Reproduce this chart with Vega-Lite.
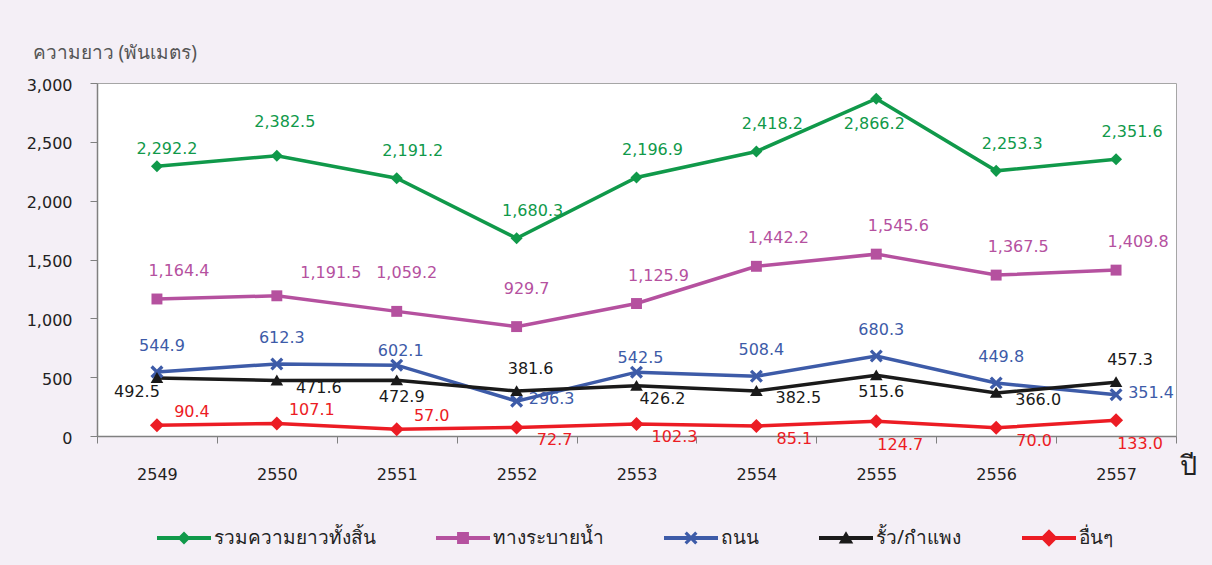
{
  "$schema": "https://vega.github.io/schema/vega-lite/v6.json",
  "width": 1079,
  "height": 353,
  "autosize": {"type": "none"},
  "padding": {"left": 97, "top": 83, "right": 36, "bottom": 129},
  "background": "#f4eff6",
  "data": {"values": [
    {"year": "2549", "series": "รวมความยาวทั้งสิ้น", "value": 2292.2},
    {"year": "2550", "series": "รวมความยาวทั้งสิ้น", "value": 2382.5},
    {"year": "2551", "series": "รวมความยาวทั้งสิ้น", "value": 2191.2},
    {"year": "2552", "series": "รวมความยาวทั้งสิ้น", "value": 1680.3},
    {"year": "2553", "series": "รวมความยาวทั้งสิ้น", "value": 2196.9},
    {"year": "2554", "series": "รวมความยาวทั้งสิ้น", "value": 2418.2},
    {"year": "2555", "series": "รวมความยาวทั้งสิ้น", "value": 2866.2},
    {"year": "2556", "series": "รวมความยาวทั้งสิ้น", "value": 2253.3},
    {"year": "2557", "series": "รวมความยาวทั้งสิ้น", "value": 2351.6},
    {"year": "2549", "series": "ทางระบายน้ำ", "value": 1164.4},
    {"year": "2550", "series": "ทางระบายน้ำ", "value": 1191.5},
    {"year": "2551", "series": "ทางระบายน้ำ", "value": 1059.2},
    {"year": "2552", "series": "ทางระบายน้ำ", "value": 929.7},
    {"year": "2553", "series": "ทางระบายน้ำ", "value": 1125.9},
    {"year": "2554", "series": "ทางระบายน้ำ", "value": 1442.2},
    {"year": "2555", "series": "ทางระบายน้ำ", "value": 1545.6},
    {"year": "2556", "series": "ทางระบายน้ำ", "value": 1367.5},
    {"year": "2557", "series": "ทางระบายน้ำ", "value": 1409.8},
    {"year": "2549", "series": "ถนน", "value": 544.9},
    {"year": "2550", "series": "ถนน", "value": 612.3},
    {"year": "2551", "series": "ถนน", "value": 602.1},
    {"year": "2552", "series": "ถนน", "value": 296.3},
    {"year": "2553", "series": "ถนน", "value": 542.5},
    {"year": "2554", "series": "ถนน", "value": 508.4},
    {"year": "2555", "series": "ถนน", "value": 680.3},
    {"year": "2556", "series": "ถนน", "value": 449.8},
    {"year": "2557", "series": "ถนน", "value": 351.4},
    {"year": "2549", "series": "รั้ว/กำแพง", "value": 492.5},
    {"year": "2550", "series": "รั้ว/กำแพง", "value": 471.6},
    {"year": "2551", "series": "รั้ว/กำแพง", "value": 472.9},
    {"year": "2552", "series": "รั้ว/กำแพง", "value": 381.6},
    {"year": "2553", "series": "รั้ว/กำแพง", "value": 426.2},
    {"year": "2554", "series": "รั้ว/กำแพง", "value": 382.5},
    {"year": "2555", "series": "รั้ว/กำแพง", "value": 515.6},
    {"year": "2556", "series": "รั้ว/กำแพง", "value": 366.0},
    {"year": "2557", "series": "รั้ว/กำแพง", "value": 457.3},
    {"year": "2549", "series": "อื่นๆ", "value": 90.4},
    {"year": "2550", "series": "อื่นๆ", "value": 107.1},
    {"year": "2551", "series": "อื่นๆ", "value": 57.0},
    {"year": "2552", "series": "อื่นๆ", "value": 72.7},
    {"year": "2553", "series": "อื่นๆ", "value": 102.3},
    {"year": "2554", "series": "อื่นๆ", "value": 85.1},
    {"year": "2555", "series": "อื่นๆ", "value": 124.7},
    {"year": "2556", "series": "อื่นๆ", "value": 70.0},
    {"year": "2557", "series": "อื่นๆ", "value": 133.0}
  ]},
  "encoding": {
    "x": {
      "field": "year", "type": "nominal",
      "scale": {"type": "band", "paddingInner": 0, "paddingOuter": 0},
      "axis": {
        "title": "ปี", "labelAngle": 0, "tickBand": "extent", "tickSize": 7,
        "tickColor": "#808080", "domainColor": "#808080", "domainWidth": 1.5,
        "labelPadding": 23, "labelFont": "DejaVu Sans", "labelFontSize": 16, "labelColor": "#222222",
        "titleX": 1091, "titleY": 30, "titleAlign": "center", "titleBaseline": "middle",
        "titleFontSize": 27, "titleFontWeight": "normal", "titleColor": "#222222", "titleFont": "Noto Sans"
      }
    },
    "y": {
      "field": "value", "type": "quantitative",
      "scale": {"domain": [0, 3000], "nice": false},
      "axis": {
        "title": "ความยาว (พันเมตร)", "values": [0, 500, 1000, 1500, 2000, 2500, 3000], "format": ",d",
        "grid": false, "tickSize": 7, "tickColor": "#808080", "domainColor": "#808080", "domainWidth": 1.5,
        "labelPadding": 18, "labelOffset": 2, "labelFont": "DejaVu Sans", "labelFontSize": 16, "labelColor": "#222222",
        "titleAngle": 0, "titleX": -65, "titleY": -31, "titleAlign": "left", "titleBaseline": "middle",
        "titleFontSize": 19, "titleFontWeight": "normal", "titleColor": "#555555", "titleFont": "Noto Sans"
      }
    },
    "color": {
      "field": "series", "type": "nominal", "legend": null,
      "scale": {
        "domain": ["รวมความยาวทั้งสิ้น", "ทางระบายน้ำ", "ถนน", "รั้ว/กำแพง", "อื่นๆ"],
        "range": ["#10994a", "#b5519f", "#3d5ba8", "#1a1a1a", "#ec1c24"]
      }
    }
  },
  "resolve": {"legend": {"color": "independent", "shape": "independent"}},
  "layer": [
    {"mark": {"type": "line", "strokeWidth": 3.5}},
    {"transform": [{"filter": {"field": "series", "equal": "รวมความยาวทั้งสิ้น"}}],
     "mark": {"type": "point", "filled": true, "opacity": 1, "size": 196, "shape": "M0,-0.86L0.86,0L0,0.86L-0.86,0Z"}},
    {"transform": [{"filter": {"field": "series", "equal": "ทางระบายน้ำ"}}],
     "mark": {"type": "point", "filled": true, "opacity": 1, "size": 196, "shape": "M-0.78,-0.78H0.78V0.78H-0.78Z"}},
    {"transform": [{"filter": {"field": "series", "equal": "ถนน"}}],
     "mark": {"type": "point", "filled": true, "opacity": 1, "size": 196, "shape": "M-0.93,-0.6L-0.6,-0.93L0,-0.33L0.6,-0.93L0.93,-0.6L0.33,0L0.93,0.6L0.6,0.93L0,0.33L-0.6,0.93L-0.93,0.6L-0.33,0Z"}},
    {"transform": [{"filter": {"field": "series", "equal": "รั้ว/กำแพง"}}],
     "mark": {"type": "point", "filled": true, "opacity": 1, "size": 196, "shape": "M0,-0.85L0.9,0.7L-0.9,0.7Z"}},
    {"transform": [{"filter": {"field": "series", "equal": "อื่นๆ"}}],
     "mark": {"type": "point", "filled": true, "opacity": 1, "size": 196, "shape": "M0,-1L1,0L0,1L-1,0Z"}},
    {"mark": {"type": "point", "filled": true, "opacity": 0},
     "encoding": {
       "color": {"field": "series", "type": "nominal",
         "legend": {"orient": "none", "legendX": 60, "legendY": 428, "direction": "horizontal", "columns": 5, "title": null,
           "symbolSize": 2916, "symbolStrokeWidth": 0, "symbolOpacity": 1, "labelFontSize": 19, "labelColor": "#222222",
           "labelOffset": 3, "labelLimit": 400, "columnPadding": 60, "padding": 0, "labelFont": "Noto Sans"}},
       "shape": {"field": "series", "type": "nominal",
         "scale": {
           "domain": ["รวมความยาวทั้งสิ้น", "ทางระบายน้ำ", "ถนน", "รั้ว/กำแพง", "อื่นๆ"],
           "range": [
             "M-1,-0.07H1V0.07H-1Z M0,-0.24L0.24,0L0,0.24L-0.24,0Z",
             "M-1,-0.07H1V0.07H-1Z M-0.22,-0.22H0.22V0.22H-0.22Z",
             "M-1,-0.07H1V0.07H-1Z M-0.24,-0.156L-0.156,-0.24L0,-0.086L0.156,-0.24L0.24,-0.156L0.086,0L0.24,0.156L0.156,0.24L0,0.086L-0.156,0.24L-0.24,0.156L-0.086,0Z",
             "M-1,-0.07H1V0.07H-1Z M0,-0.25L0.27,0.2L-0.27,0.2Z",
             "M-1,-0.07H1V0.07H-1Z M0,-0.32L0.32,0L0,0.32L-0.32,0Z"
           ]},
         "legend": {"orient": "none", "legendX": 60, "legendY": 428, "direction": "horizontal", "columns": 5, "title": null,
           "symbolSize": 2916, "symbolStrokeWidth": 0, "symbolOpacity": 1, "labelFontSize": 19, "labelColor": "#222222",
           "labelOffset": 3, "labelLimit": 400, "columnPadding": 60, "padding": 0, "labelFont": "Noto Sans"}}
     }},
    {"transform": [{"filter": {"and": [{"field": "series", "equal": "รวมความยาวทั้งสิ้น"}, {"field": "year", "oneOf": ["2549"]}]}}],
     "mark": {"type": "text", "dx": 10, "dy": -17}, "encoding": {"text": {"field": "value", "format": ",.1f"}}},
    {"transform": [{"filter": {"and": [{"field": "series", "equal": "รวมความยาวทั้งสิ้น"}, {"field": "year", "oneOf": ["2550"]}]}}],
     "mark": {"type": "text", "dx": 8, "dy": -34}, "encoding": {"text": {"field": "value", "format": ",.1f"}}},
    {"transform": [{"filter": {"and": [{"field": "series", "equal": "รวมความยาวทั้งสิ้น"}, {"field": "year", "oneOf": ["2555"]}]}}],
     "mark": {"type": "text", "dx": -2, "dy": 25}, "encoding": {"text": {"field": "value", "format": ",.1f"}}},
    {"transform": [{"filter": {"and": [{"field": "series", "equal": "รวมความยาวทั้งสิ้น"}, {"field": "year", "oneOf": ["2551", "2552", "2553", "2554", "2556", "2557"]}]}}],
     "mark": {"type": "text", "dx": 16, "dy": -27}, "encoding": {"text": {"field": "value", "format": ",.1f"}}},
    {"transform": [{"filter": {"and": [{"field": "series", "equal": "ทางระบายน้ำ"}, {"field": "year", "oneOf": ["2550"]}]}}],
     "mark": {"type": "text", "dx": 54, "dy": -23}, "encoding": {"text": {"field": "value", "format": ",.1f"}}},
    {"transform": [{"filter": {"and": [{"field": "series", "equal": "ทางระบายน้ำ"}, {"field": "year", "oneOf": ["2551", "2552"]}]}}],
     "mark": {"type": "text", "dx": 10, "dy": -38}, "encoding": {"text": {"field": "value", "format": ",.1f"}}},
    {"transform": [{"filter": {"and": [{"field": "series", "equal": "ทางระบายน้ำ"}, {"field": "year", "oneOf": ["2549", "2553", "2554", "2555", "2556", "2557"]}]}}],
     "mark": {"type": "text", "dx": 22, "dy": -28}, "encoding": {"text": {"field": "value", "format": ",.1f"}}},
    {"transform": [{"filter": {"and": [{"field": "series", "equal": "ถนน"}, {"field": "year", "oneOf": ["2552", "2557"]}]}}],
     "mark": {"type": "text", "dx": 35, "dy": -2}, "encoding": {"text": {"field": "value", "format": ",.1f"}}},
    {"transform": [{"filter": {"and": [{"field": "series", "equal": "ถนน"}, {"field": "year", "oneOf": ["2551", "2553"]}]}}],
     "mark": {"type": "text", "dx": 4, "dy": -14}, "encoding": {"text": {"field": "value", "format": ",.1f"}}},
    {"transform": [{"filter": {"and": [{"field": "series", "equal": "ถนน"}, {"field": "year", "oneOf": ["2549", "2550", "2554", "2555", "2556"]}]}}],
     "mark": {"type": "text", "dx": 5, "dy": -26}, "encoding": {"text": {"field": "value", "format": ",.1f"}}},
    {"transform": [{"filter": {"and": [{"field": "series", "equal": "รั้ว/กำแพง"}, {"field": "year", "oneOf": ["2549"]}]}}],
     "mark": {"type": "text", "dx": -20, "dy": 14}, "encoding": {"text": {"field": "value", "format": ",.1f"}}},
    {"transform": [{"filter": {"and": [{"field": "series", "equal": "รั้ว/กำแพง"}, {"field": "year", "oneOf": ["2550", "2554", "2556"]}]}}],
     "mark": {"type": "text", "dx": 42, "dy": 7}, "encoding": {"text": {"field": "value", "format": ",.1f"}}},
    {"transform": [{"filter": {"and": [{"field": "series", "equal": "รั้ว/กำแพง"}, {"field": "year", "oneOf": ["2551", "2555"]}]}}],
     "mark": {"type": "text", "dx": 5, "dy": 17}, "encoding": {"text": {"field": "value", "format": ",.1f"}}},
    {"transform": [{"filter": {"and": [{"field": "series", "equal": "รั้ว/กำแพง"}, {"field": "year", "oneOf": ["2553"]}]}}],
     "mark": {"type": "text", "dx": 26, "dy": 13}, "encoding": {"text": {"field": "value", "format": ",.1f"}}},
    {"transform": [{"filter": {"and": [{"field": "series", "equal": "รั้ว/กำแพง"}, {"field": "year", "oneOf": ["2552", "2557"]}]}}],
     "mark": {"type": "text", "dx": 14, "dy": -22}, "encoding": {"text": {"field": "value", "format": ",.1f"}}},
    {"transform": [{"filter": {"and": [{"field": "series", "equal": "อื่นๆ"}, {"field": "year", "oneOf": ["2549", "2550", "2551"]}]}}],
     "mark": {"type": "text", "dx": 35, "dy": -13}, "encoding": {"text": {"field": "value", "format": ",.1f"}}},
    {"transform": [{"filter": {"and": [{"field": "series", "equal": "อื่นๆ"}, {"field": "year", "oneOf": ["2552", "2553", "2554", "2556"]}]}}],
     "mark": {"type": "text", "dx": 38, "dy": 13}, "encoding": {"text": {"field": "value", "format": ",.1f"}}},
    {"transform": [{"filter": {"and": [{"field": "series", "equal": "อื่นๆ"}, {"field": "year", "oneOf": ["2555", "2557"]}]}}],
     "mark": {"type": "text", "dx": 24, "dy": 24}, "encoding": {"text": {"field": "value", "format": ",.1f"}}}
  ],
  "config": {
    "view": {"fill": "white", "stroke": "#a6a6a6", "strokeWidth": 1},
    "text": {"font": "DejaVu Sans", "fontSize": 16}
  }
}
